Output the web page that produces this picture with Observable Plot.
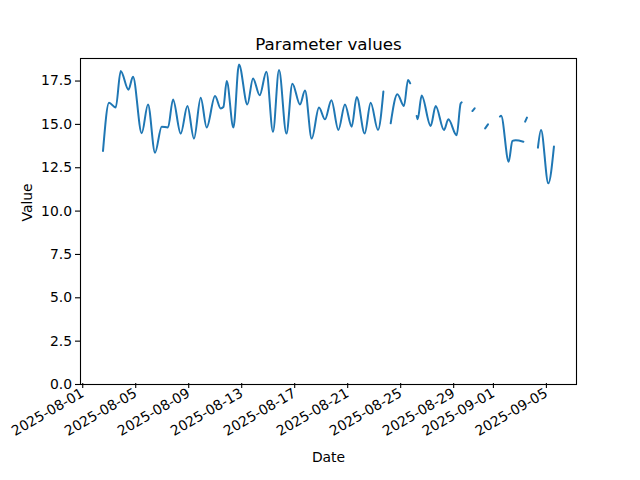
<!DOCTYPE html>
<html>
<head>
<meta charset="utf-8">
<script src="https://cdn.jsdelivr.net/npm/d3@7"></script>
<script src="https://cdn.jsdelivr.net/npm/@observablehq/plot@0.6"></script>
<style>
  html, body { margin: 0; padding: 0; background: #fff; }
</style>
</head>
<body>
<div id="chart"></div>
<script>
// Timestamps (UTC) and values; null marks a gap in the series
const dates = [
  "2025-08-02T05:30Z","2025-08-02T16:25Z","2025-08-03T04:30Z","2025-08-03T13:35Z","2025-08-04T03:30Z",
  "2025-08-04T11:50Z","2025-08-05T03:35Z","2025-08-05T15:00Z","2025-08-06T03:45Z","2025-08-06T15:50Z",
  "2025-08-07T03:15Z","2025-08-07T12:20Z","2025-08-08T02:15Z","2025-08-08T14:25Z","2025-08-09T02:20Z",
  "2025-08-09T14:30Z","2025-08-10T01:20Z","2025-08-10T16:25Z","2025-08-11T02:45Z","2025-08-11T07:35Z",
  "2025-08-11T13:35Z","2025-08-12T01:45Z","2025-08-12T11:50Z","2025-08-13T03:05Z","2025-08-13T13:15Z",
  "2025-08-14T01:20Z","2025-08-14T13:30Z","2025-08-15T01:25Z","2025-08-15T12:20Z","2025-08-16T01:45Z",
  "2025-08-16T12:35Z","2025-08-17T02:20Z","2025-08-17T11:25Z","2025-08-17T23:35Z","2025-08-18T12:45Z",
  "2025-08-18T23:40Z","2025-08-19T11:15Z","2025-08-19T23:55Z","2025-08-20T11:50Z","2025-08-21T00:00Z",
  "2025-08-21T09:05Z","2025-08-21T23:35Z","2025-08-22T10:25Z","2025-08-22T23:40Z","2025-08-23T09:25Z",
  "2025-08-23T16:00Z",
  "2025-08-23T22:40Z","2025-08-24T10:45Z","2025-08-24T22:45Z","2025-08-25T06:00Z","2025-08-25T10:00Z",
  "2025-08-25T16:00Z",
  "2025-08-25T21:45Z","2025-08-25T23:35Z","2025-08-26T06:45Z","2025-08-26T23:05Z","2025-08-27T08:10Z",
  "2025-08-27T23:10Z","2025-08-28T07:10Z","2025-08-28T22:10Z","2025-08-29T05:25Z","2025-08-29T07:10Z",
  "2025-08-29T16:00Z",
  "2025-08-30T02:40Z","2025-08-30T06:45Z",
  "2025-08-30T16:00Z",
  "2025-08-31T01:50Z","2025-08-31T06:55Z",
  "2025-08-31T16:00Z",
  "2025-09-01T04:35Z","2025-09-01T06:45Z","2025-09-01T20:25Z","2025-09-02T03:05Z","2025-09-02T09:05Z",
  "2025-09-02T23:00Z",
  "2025-09-03T00:40Z",
  "2025-09-03T02:15Z","2025-09-03T05:30Z",
  "2025-09-03T16:00Z",
  "2025-09-04T01:25Z","2025-09-04T07:00Z","2025-09-04T20:15Z","2025-09-05T06:25Z"
];
const values = [
  13.47, 16.25, 15.97, 18.08, 17.0,
  17.75, 14.49, 16.15, 13.37, 14.87,
  14.82, 16.44, 14.47, 16.06, 14.18,
  16.54, 14.82, 16.64, 15.92, 16.0,
  17.5, 14.82, 18.46, 16.15, 17.65,
  16.68, 18.04, 14.57, 18.13, 14.47,
  17.35, 16.15, 16.96, 14.18, 15.97,
  15.29, 16.39, 14.68, 16.15, 14.87,
  16.58, 14.47, 16.25, 14.68, 16.89,
  null,
  15.06, 16.74, 16.06, 17.56, 17.37,
  null,
  15.49, 15.29, 16.66, 14.91, 16.06,
  14.68, 15.29, 14.37, 16.21, 16.27,
  null,
  15.77, 15.93,
  null,
  14.77, 15.0,
  null,
  15.45, 15.5, 12.85, 14.05, 14.08,
  14.0,
  null,
  15.16, 15.39,
  null,
  13.66, 14.68, 11.6, 13.72
];
const xTicks = ["2025-08-01","2025-08-05","2025-08-09","2025-08-13","2025-08-17",
                "2025-08-21","2025-08-25","2025-08-29","2025-09-01","2025-09-05"];
const yTicks = [0, 2.5, 5, 7.5, 10, 12.5, 15, 17.5];

const data = dates.map((d, i) => ({date: new Date(d), value: values[i]}));
const xTickDates = xTicks.map(s => new Date(s + "T00:00Z"));
const fmt = d3.utcFormat("%Y-%m-%d");
const font = "DejaVu Sans";

const chart = Plot.plot({
  width: 640,
  height: 480,
  marginLeft: 80,
  marginRight: 64,
  marginTop: 58,
  marginBottom: 96,
  style: {fontFamily: font, fontSize: "13.9px", color: "black", background: "white"},
  x: {type: "utc", domain: [new Date("2025-07-31T12:43Z"), new Date("2025-09-06T23:17Z")]},
  y: {domain: [0, 18.8]},
  marks: [
    Plot.line(data, {x: "date", y: "value", stroke: "#1f77b4", strokeWidth: 2, curve: "monotone-x"}),
    Plot.frame({stroke: "black", strokeWidth: 1.1}),
    Plot.axisY({ticks: yTicks, tickFormat: d => d.toFixed(1), tickSize: 5, tickPadding: 3.5,
                fontSize: 13.9, label: null, stroke: "black", strokeWidth: 1.1}),
    Plot.axisX({ticks: xTickDates, tickFormat: fmt, tickSize: 5, tickPadding: 3.5, tickRotate: -30,
                fontSize: 13.9, label: null, stroke: "black", strokeWidth: 1.1, dx: -4, dy: -1}),
    Plot.text(["Parameter values"], {frameAnchor: "top", dy: -8.3, lineAnchor: "bottom",
                fontSize: 16.7, fill: "black"}),
    Plot.text(["Date"], {frameAnchor: "bottom", dy: 68, lineAnchor: "top", fontSize: 13.9, fill: "black"}),
    Plot.text(["Value"], {frameAnchor: "left", dx: -53, rotate: -90, lineAnchor: "middle",
                fontSize: 13.9, fill: "black"})
  ]
});
document.getElementById("chart").appendChild(chart);
</script>
</body>
</html>
